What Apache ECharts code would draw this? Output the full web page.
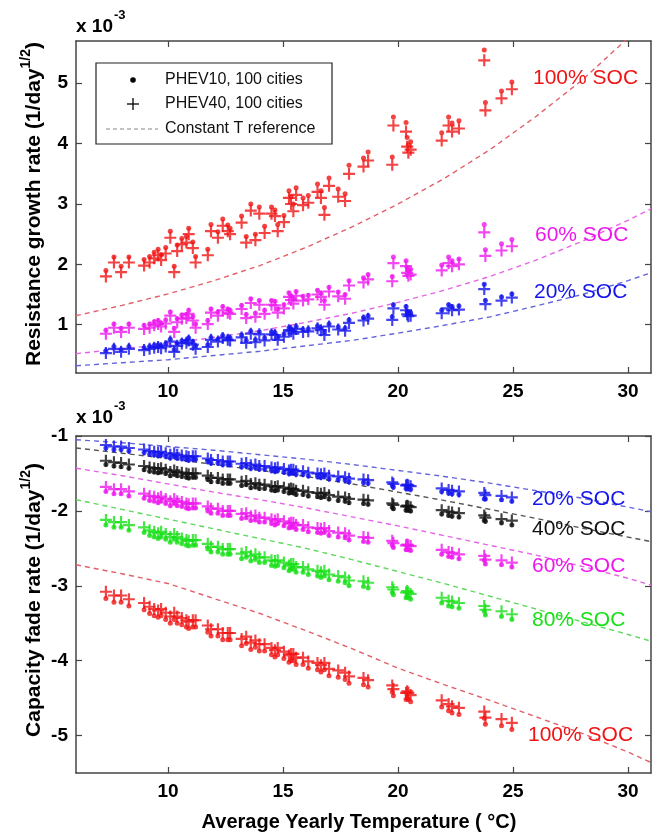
<!DOCTYPE html>
<html><head><meta charset="utf-8">
<script src="https://cdn.jsdelivr.net/npm/echarts@6/dist/echarts.min.js"></script>
<style>html,body{margin:0;padding:0;background:#fff}#c{width:660px;height:834px}</style>
</head><body><div id="c"></div>
<script>
// ---- Data ----
const temps = [7.3,7.65,7.96,8.3,8.96,9.2,9.4,9.57,9.7,9.9,10.1,10.27,10.4,10.6,10.8,10.9,11.08,11.2,11.73,11.87,12.17,12.38,12.6,12.7,13.2,13.4,13.6,13.8,13.97,14.2,14.5,14.65,14.77,15.04,15.26,15.35,15.45,15.57,15.87,16.1,16.5,16.65,16.8,17.0,17.4,17.7,17.87,18.5,18.7,19.8,19.75,20.35,20.4,20.45,20.55,21.9,22.2,22.35,22.65,23.75,23.8,24.5,24.95];

// Resistance growth (x1e-3)
const resRed10 = [1.90,2.12,1.97,2.12,2.08,2.13,2.20,2.25,2.16,2.28,2.55,1.97,2.32,2.43,2.46,2.60,2.37,2.13,2.25,2.66,2.54,2.75,2.65,2.60,2.80,2.46,3.00,2.50,2.95,2.63,2.95,2.90,2.66,2.81,3.22,3.12,3.00,3.27,3.10,3.14,3.33,3.22,2.94,3.43,3.25,3.17,3.64,3.76,3.86,4.44,3.78,4.35,4.10,3.98,4.03,4.18,4.44,4.34,4.38,5.55,4.68,4.87,5.02];
const resRed40 = [1.80,2.03,1.87,2.03,1.98,2.03,2.10,2.15,2.07,2.18,2.44,1.87,2.22,2.33,2.36,2.50,2.27,2.03,2.15,2.55,2.44,2.64,2.55,2.50,2.69,2.36,2.89,2.40,2.84,2.52,2.84,2.80,2.55,2.70,3.10,3.00,2.88,3.15,2.98,3.02,3.20,3.10,2.82,3.30,3.12,3.05,3.50,3.62,3.72,4.30,3.65,4.20,3.95,3.85,3.90,4.05,4.30,4.20,4.25,5.38,4.55,4.75,4.90];
const resMag10 = [0.91,1.01,0.94,1.01,0.99,1.01,1.05,1.07,1.03,1.08,1.21,0.94,1.10,1.16,1.17,1.24,1.13,1.01,1.07,1.26,1.21,1.30,1.26,1.24,1.32,1.17,1.43,1.19,1.40,1.24,1.40,1.39,1.26,1.33,1.53,1.48,1.42,1.55,1.47,1.49,1.57,1.53,1.40,1.62,1.54,1.50,1.73,1.78,1.83,2.12,1.80,2.06,1.95,1.90,1.92,1.99,2.12,2.06,2.09,2.66,2.24,2.34,2.41];
const resMag40 = [0.85,0.95,0.88,0.95,0.93,0.95,0.99,1.01,0.97,1.02,1.15,0.88,1.04,1.10,1.11,1.18,1.07,0.95,1.01,1.20,1.15,1.24,1.20,1.18,1.26,1.11,1.36,1.13,1.33,1.18,1.33,1.32,1.20,1.27,1.46,1.41,1.35,1.48,1.40,1.42,1.50,1.46,1.33,1.55,1.47,1.43,1.65,1.70,1.75,2.02,1.72,1.97,1.86,1.81,1.83,1.90,2.02,1.97,2.00,2.53,2.14,2.23,2.30];
const resBlue10 = [0.57,0.64,0.59,0.64,0.62,0.64,0.66,0.67,0.65,0.68,0.76,0.59,0.69,0.73,0.74,0.78,0.71,0.64,0.67,0.79,0.76,0.82,0.79,0.78,0.83,0.74,0.89,0.75,0.88,0.78,0.88,0.87,0.79,0.84,0.95,0.93,0.89,0.97,0.92,0.93,0.98,0.95,0.87,1.01,0.96,0.94,1.08,1.12,1.15,1.33,1.13,1.30,1.22,1.19,1.20,1.24,1.33,1.30,1.31,1.67,1.40,1.46,1.51];
const resBlue40 = [0.53,0.60,0.55,0.60,0.58,0.60,0.62,0.63,0.61,0.64,0.72,0.55,0.65,0.69,0.70,0.74,0.67,0.60,0.63,0.75,0.72,0.78,0.75,0.74,0.79,0.70,0.85,0.71,0.84,0.74,0.84,0.83,0.75,0.80,0.91,0.89,0.85,0.93,0.88,0.89,0.94,0.91,0.83,0.97,0.92,0.90,1.03,1.07,1.10,1.27,1.08,1.24,1.17,1.14,1.15,1.19,1.27,1.24,1.25,1.59,1.34,1.40,1.45];

// Capacity fade (x1e-3)
const capBlue10 = [-1.16,-1.18,-1.18,-1.20,-1.22,-1.24,-1.25,-1.26,-1.25,-1.27,-1.29,-1.27,-1.29,-1.30,-1.31,-1.32,-1.31,-1.31,-1.34,-1.36,-1.36,-1.38,-1.38,-1.38,-1.41,-1.40,-1.43,-1.42,-1.44,-1.44,-1.46,-1.47,-1.46,-1.48,-1.50,-1.49,-1.49,-1.51,-1.51,-1.53,-1.54,-1.55,-1.54,-1.57,-1.58,-1.59,-1.61,-1.62,-1.63,-1.68,-1.66,-1.70,-1.69,-1.70,-1.71,-1.74,-1.76,-1.77,-1.78,-1.84,-1.84,-1.85,-1.87];
const capBlue40 = [-1.12,-1.14,-1.14,-1.16,-1.18,-1.20,-1.21,-1.22,-1.21,-1.23,-1.25,-1.23,-1.25,-1.26,-1.27,-1.28,-1.27,-1.27,-1.30,-1.32,-1.32,-1.34,-1.34,-1.34,-1.37,-1.36,-1.39,-1.38,-1.40,-1.40,-1.42,-1.43,-1.42,-1.44,-1.46,-1.45,-1.45,-1.47,-1.47,-1.49,-1.50,-1.51,-1.50,-1.53,-1.54,-1.55,-1.57,-1.58,-1.59,-1.64,-1.62,-1.66,-1.65,-1.66,-1.67,-1.70,-1.72,-1.73,-1.74,-1.76,-1.79,-1.80,-1.82];
const capBlack10 = [-1.38,-1.40,-1.41,-1.43,-1.45,-1.47,-1.48,-1.49,-1.48,-1.50,-1.53,-1.51,-1.53,-1.54,-1.55,-1.56,-1.55,-1.55,-1.58,-1.61,-1.61,-1.63,-1.63,-1.63,-1.66,-1.65,-1.69,-1.68,-1.70,-1.70,-1.72,-1.73,-1.72,-1.74,-1.76,-1.75,-1.76,-1.78,-1.78,-1.80,-1.81,-1.82,-1.81,-1.84,-1.86,-1.87,-1.89,-1.90,-1.91,-1.97,-1.95,-1.99,-1.98,-1.99,-2.00,-2.04,-2.06,-2.07,-2.08,-2.13,-2.14,-2.16,-2.19];
const capBlack40 = [-1.33,-1.35,-1.36,-1.38,-1.40,-1.42,-1.43,-1.44,-1.43,-1.45,-1.48,-1.46,-1.48,-1.49,-1.50,-1.51,-1.50,-1.50,-1.53,-1.56,-1.56,-1.58,-1.58,-1.58,-1.61,-1.60,-1.64,-1.63,-1.65,-1.65,-1.67,-1.68,-1.67,-1.69,-1.71,-1.70,-1.71,-1.73,-1.73,-1.75,-1.76,-1.77,-1.76,-1.79,-1.81,-1.82,-1.84,-1.85,-1.86,-1.92,-1.90,-1.94,-1.93,-1.94,-1.95,-1.99,-2.01,-2.02,-2.03,-2.06,-2.09,-2.11,-2.13];
const capMag10 = [-1.74,-1.77,-1.77,-1.80,-1.83,-1.86,-1.87,-1.89,-1.87,-1.90,-1.93,-1.90,-1.93,-1.94,-1.96,-1.97,-1.96,-1.96,-2.00,-2.03,-2.03,-2.06,-2.06,-2.06,-2.10,-2.09,-2.13,-2.12,-2.15,-2.15,-2.17,-2.19,-2.17,-2.20,-2.23,-2.22,-2.22,-2.25,-2.25,-2.28,-2.29,-2.30,-2.29,-2.33,-2.35,-2.36,-2.39,-2.41,-2.42,-2.49,-2.46,-2.52,-2.51,-2.52,-2.53,-2.58,-2.61,-2.62,-2.64,-2.66,-2.71,-2.72,-2.75];
const capMag40 = [-1.68,-1.71,-1.71,-1.74,-1.77,-1.80,-1.81,-1.83,-1.81,-1.84,-1.87,-1.84,-1.87,-1.88,-1.90,-1.91,-1.90,-1.90,-1.94,-1.97,-1.97,-2.00,-2.00,-2.00,-2.04,-2.03,-2.07,-2.06,-2.09,-2.09,-2.11,-2.13,-2.11,-2.14,-2.17,-2.16,-2.16,-2.19,-2.19,-2.22,-2.23,-2.24,-2.23,-2.27,-2.29,-2.30,-2.33,-2.35,-2.36,-2.43,-2.40,-2.46,-2.45,-2.46,-2.47,-2.52,-2.55,-2.56,-2.58,-2.60,-2.65,-2.66,-2.69];
const capGreen10 = [-2.19,-2.22,-2.22,-2.26,-2.29,-2.33,-2.35,-2.37,-2.35,-2.38,-2.42,-2.38,-2.42,-2.44,-2.46,-2.47,-2.46,-2.46,-2.51,-2.55,-2.55,-2.58,-2.58,-2.58,-2.64,-2.62,-2.67,-2.65,-2.69,-2.69,-2.73,-2.74,-2.73,-2.76,-2.80,-2.78,-2.78,-2.82,-2.82,-2.85,-2.87,-2.89,-2.87,-2.92,-2.94,-2.96,-3.00,-3.01,-3.03,-3.12,-3.09,-3.16,-3.14,-3.16,-3.18,-3.23,-3.27,-3.28,-3.30,-3.34,-3.39,-3.41,-3.45];
const capGreen40 = [-2.12,-2.15,-2.15,-2.19,-2.22,-2.26,-2.28,-2.30,-2.28,-2.31,-2.35,-2.31,-2.35,-2.37,-2.39,-2.40,-2.39,-2.39,-2.44,-2.48,-2.48,-2.51,-2.51,-2.51,-2.57,-2.55,-2.60,-2.58,-2.62,-2.62,-2.66,-2.67,-2.66,-2.69,-2.73,-2.71,-2.71,-2.75,-2.75,-2.78,-2.80,-2.82,-2.80,-2.85,-2.87,-2.89,-2.93,-2.94,-2.96,-3.05,-3.02,-3.09,-3.07,-3.09,-3.11,-3.16,-3.20,-3.21,-3.23,-3.27,-3.32,-3.34,-3.38];
const capRed10 = [-3.17,-3.22,-3.22,-3.27,-3.32,-3.37,-3.40,-3.42,-3.40,-3.45,-3.50,-3.45,-3.50,-3.52,-3.55,-3.57,-3.55,-3.55,-3.62,-3.67,-3.67,-3.72,-3.72,-3.72,-3.80,-3.77,-3.85,-3.82,-3.87,-3.87,-3.92,-3.95,-3.92,-3.97,-4.02,-4.00,-4.00,-4.05,-4.05,-4.10,-4.12,-4.15,-4.12,-4.20,-4.22,-4.25,-4.30,-4.32,-4.35,-4.47,-4.42,-4.52,-4.50,-4.52,-4.55,-4.62,-4.67,-4.70,-4.72,-4.77,-4.85,-4.87,-4.92];
const capRed40 = [-3.08,-3.13,-3.13,-3.18,-3.23,-3.28,-3.31,-3.33,-3.31,-3.36,-3.41,-3.36,-3.41,-3.43,-3.46,-3.48,-3.46,-3.46,-3.53,-3.58,-3.58,-3.63,-3.63,-3.63,-3.71,-3.68,-3.76,-3.73,-3.78,-3.78,-3.83,-3.86,-3.83,-3.88,-3.93,-3.91,-3.91,-3.96,-3.96,-4.01,-4.03,-4.06,-4.03,-4.11,-4.13,-4.16,-4.21,-4.23,-4.26,-4.38,-4.33,-4.43,-4.41,-4.43,-4.46,-4.53,-4.58,-4.61,-4.63,-4.68,-4.76,-4.78,-4.83];

// Constant-temperature reference curves
const refTemps = [6,8,10,12,14,16,18,20,22,24,26,28,30,31];
const refResRed  = [1.15,1.32,1.51,1.73,1.98,2.28,2.62,3.00,3.42,3.90,4.45,5.05,5.75,6.15];
const refResMag  = [0.52,0.60,0.68,0.79,0.90,1.04,1.19,1.37,1.57,1.80,2.07,2.38,2.73,2.92];
const refResBlue = [0.32,0.37,0.42,0.49,0.56,0.65,0.74,0.86,0.99,1.13,1.31,1.50,1.73,1.86];
const refCapBlue  = [-1.05,-1.09,-1.14,-1.19,-1.25,-1.31,-1.38,-1.46,-1.54,-1.63,-1.73,-1.83,-1.95,-2.01];
const refCapBlack = [-1.16,-1.23,-1.30,-1.38,-1.46,-1.54,-1.64,-1.75,-1.86,-1.98,-2.10,-2.23,-2.35,-2.41];
const refCapMag   = [-1.43,-1.53,-1.64,-1.75,-1.85,-1.96,-2.08,-2.20,-2.33,-2.46,-2.59,-2.74,-2.90,-2.99];
const refCapGreen = [-1.85,-1.98,-2.11,-2.24,-2.37,-2.50,-2.65,-2.81,-2.97,-3.14,-3.31,-3.48,-3.65,-3.74];
const refCapRed   = [-2.72,-2.84,-2.97,-3.17,-3.37,-3.60,-3.84,-4.10,-4.32,-4.53,-4.75,-4.97,-5.22,-5.36];

const xTicks = [10,15,20,25,30];
const resTicks = [1,2,3,4,5];
const capTicks = [-5,-4,-3,-2,-1];

// ---- Styles ----
const FONT = 'Liberation Sans, Arial, Helvetica, sans-serif';
const COL = {red:'#f01414', mag:'#ee18ee', blue:'#1414ec', black:'#111111', green:'#18e018'};
const DASH = {red:'#e2606a', mag:'#e466e4', blue:'#6464dc', black:'#555555', green:'#5ed85e'};
const PLUS = 'path://M4.1,0H5.9V4.1H10V5.9H5.9V10H4.1V5.9H0V4.1H4.1Z';

function zip(xs, ys){ return xs.map((x,i)=>[x, ys[i]]); }
function group(g, key, v10, v40, ref){
  return [
    {type:'line', xAxisIndex:2*g, yAxisIndex:2*g, data:zip(refTemps, ref), showSymbol:false,
     lineStyle:{color:DASH[key], width:1.4, type:[5,4]}, silent:true, z:1},
    {type:'scatter', xAxisIndex:2*g, yAxisIndex:2*g, data:zip(temps, v40), symbol:PLUS, symbolSize:12,
     itemStyle:{color:COL[key]}, z:2},
    {type:'scatter', xAxisIndex:2*g, yAxisIndex:2*g, data:zip(temps, v10), symbol:'circle', symbolSize:5,
     itemStyle:{color:COL[key]}, z:3}
  ];
}

const axLine = {show:true, lineStyle:{color:'#444', width:1.5}};
function xAx(g, pos, labels){
  return {type:'value', gridIndex:g, position:pos, min:6, max:31,
    axisLine:axLine, splitLine:{show:false},
    axisTick:{show:true, inside:true, length:6, customValues:xTicks, lineStyle:{color:'#444', width:1.2}},
    axisLabel:{show:labels, customValues:xTicks, margin:9, color:'#000', fontFamily:FONT, fontSize:19, fontWeight:'bold'}};
}
function yAx(g, pos, labels, mn, mx, ticks){
  return {type:'value', gridIndex:g, position:pos, min:mn, max:mx,
    axisLine:axLine, splitLine:{show:false},
    axisTick:{show:true, inside:true, length:6, customValues:ticks, lineStyle:{color:'#444', width:1.2}},
    axisLabel:{show:labels, customValues:ticks, margin:8, color:'#000', fontFamily:FONT, fontSize:19, fontWeight:'bold'}};
}

function txt(x, y, text, color, size, weight, align){
  return {type:'text', x:x, y:y, z:50, style:{text:text, fill:color, font:(weight||'normal')+' '+size+'px '+FONT,
    align:align||'left', verticalAlign:'middle'}};
}

const graphic = [
  // exponent labels
  txt(76, 27, 'x 10', '#000', 19, 'bold'), txt(114, 15, '-3', '#000', 13, 'bold'),
  txt(76, 418, 'x 10', '#000', 19, 'bold'), txt(114, 406, '-3', '#000', 13, 'bold'),
  // SOC labels top
  txt(533, 78, '100% SOC', COL.red, 21), txt(535, 235, '60% SOC', COL.mag, 21), txt(534, 292, '20% SOC', COL.blue, 21),
  // SOC labels bottom
  txt(532, 499, '20% SOC', COL.blue, 21), txt(532, 529, '40% SOC', COL.black, 21),
  txt(532, 566, '60% SOC', COL.mag, 21), txt(532, 620, '80% SOC', COL.green, 21),
  txt(528, 735, '100% SOC', COL.red, 21),
  // axis titles
  {type:'text', x:34, y:204, rotation:Math.PI/2, z:50, style:{
    text:'{m|Resistance growth rate (1/day}{s|1/2}{m|)}', align:'center', verticalAlign:'middle',
    rich:{m:{fontFamily:FONT, fontSize:21, fontWeight:'bold', fill:'#000', lineHeight:30},
          s:{fontFamily:FONT, fontSize:14, fontWeight:'bold', fill:'#000', lineHeight:14, verticalAlign:'top'}}}},
  {type:'text', x:34, y:600, rotation:Math.PI/2, z:50, style:{
    text:'{m|Capacity fade rate (1/day}{s|1/2}{m|)}', align:'center', verticalAlign:'middle',
    rich:{m:{fontFamily:FONT, fontSize:21, fontWeight:'bold', fill:'#000', lineHeight:30},
          s:{fontFamily:FONT, fontSize:14, fontWeight:'bold', fill:'#000', lineHeight:14, verticalAlign:'top'}}}},
  txt(359, 822, 'Average Yearly Temperature ( \u00B0C)', '#000', 20, 'bold', 'center'),
  // legend box
  {type:'rect', z:40, shape:{x:96, y:63, width:236, height:81}, style:{fill:'#fff', stroke:'#222', lineWidth:1.2}},
  {type:'circle', z:41, shape:{cx:133, cy:80, r:2.8}, style:{fill:'#000'}},
  {type:'line', z:41, shape:{x1:127, y1:104, x2:139, y2:104}, style:{stroke:'#000', lineWidth:1.3}},
  {type:'line', z:41, shape:{x1:133, y1:98, x2:133, y2:110}, style:{stroke:'#000', lineWidth:1.3}},
  {type:'line', z:41, shape:{x1:106, y1:129, x2:158, y2:129}, style:{stroke:'#888', lineWidth:1.2, lineDash:[4,3]}},
  txt(165, 80, 'PHEV10, 100 cities', '#111', 16), txt(165, 104, 'PHEV40, 100 cities', '#111', 16),
  txt(165, 129, 'Constant T reference', '#111', 16)
];

const option = {
  animation:false,
  backgroundColor:'#fff',
  grid:[{left:76, top:41, width:575, height:332}, {left:76, top:436, width:575, height:337}],
  xAxis:[xAx(0,'bottom',true), xAx(0,'top',false), xAx(1,'bottom',true), xAx(1,'top',false)],
  yAxis:[yAx(0,'left',true,0.2,5.7,resTicks), yAx(0,'right',false,0.2,5.7,resTicks),
         yAx(1,'left',true,-5.5,-1,capTicks), yAx(1,'right',false,-5.5,-1,capTicks)],
  series:[].concat(
    group(0,'red',resRed10,resRed40,refResRed),
    group(0,'mag',resMag10,resMag40,refResMag),
    group(0,'blue',resBlue10,resBlue40,refResBlue),
    group(1,'blue',capBlue10,capBlue40,refCapBlue),
    group(1,'black',capBlack10,capBlack40,refCapBlack),
    group(1,'mag',capMag10,capMag40,refCapMag),
    group(1,'green',capGreen10,capGreen40,refCapGreen),
    group(1,'red',capRed10,capRed40,refCapRed)
  ),
  graphic:graphic
};
const chart = echarts.init(document.getElementById('c'), null, {renderer:'canvas'});
chart.setOption(option);
</script></body></html>
